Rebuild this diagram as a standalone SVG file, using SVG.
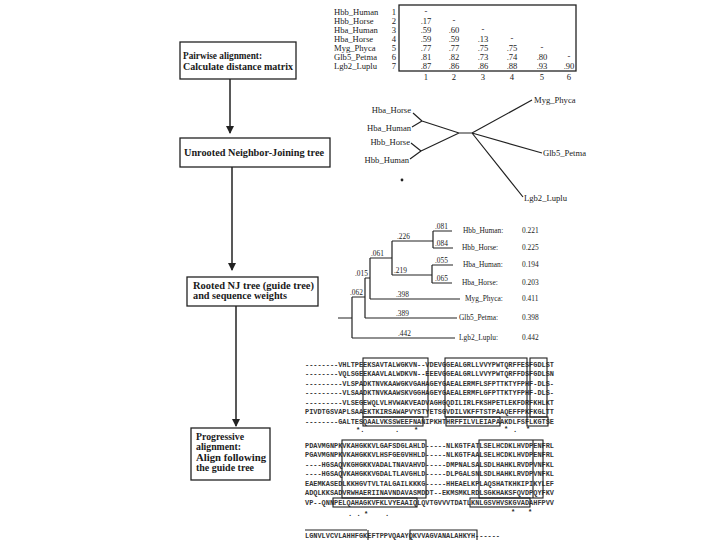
<svg xmlns="http://www.w3.org/2000/svg" width="720" height="540" viewBox="0 0 720 540">
<defs>
<style>
.lbl{font-family:"Liberation Serif",serif;font-weight:bold;font-size:9.5px;fill:#1a1a1a}
.box{fill:#fff;stroke:#222;stroke-width:1.3}
.flow{stroke:#222;stroke-width:1.5;fill:none;marker-end:url(#ah)}
.tr{stroke:#222;stroke-width:1.2;fill:none}
.nm{font-family:"Liberation Serif",serif;font-size:8.6px;fill:#222}
.sm{font-family:"Liberation Serif",serif;font-size:7.4px;fill:#222}
.seq{font-family:"Liberation Mono",monospace;font-weight:bold;font-size:6.9px;fill:#333}
.hl{fill:none;stroke:#222;stroke-width:1.1}
.cons{font-family:"Liberation Mono",monospace;font-weight:bold;font-size:7px;fill:#222}
</style>
<marker id="ah" markerWidth="8" markerHeight="8" refX="7" refY="4" orient="auto" markerUnits="userSpaceOnUse"><path d="M0,0 L8,4 L0,8 z" fill="#222"/></marker>
</defs>
<rect width="720" height="540" fill="#fff"/>

<g id="connectors">
<line class="flow" x1="230" y1="79" x2="230" y2="133"/>
<line class="flow" x1="232" y1="167" x2="232" y2="270"/>
<line class="flow" x1="236" y1="306" x2="236" y2="426"/>
</g>

<g id="step1">
<rect class="box" x="180" y="42" width="116" height="37"/>
<text class="lbl" x="183" y="59" textLength="79" lengthAdjust="spacingAndGlyphs">Pairwise alignment:</text>
<text class="lbl" x="183" y="70" textLength="110" lengthAdjust="spacingAndGlyphs">Calculate distance matrix</text>
</g>
<g id="step2">
<rect class="box" x="180" y="138" width="150" height="29"/>
<text class="lbl" x="184" y="156" textLength="140" lengthAdjust="spacingAndGlyphs">Unrooted Neighbor-Joining tree</text>
</g>
<g id="step3">
<rect class="box" x="187" y="277" width="131" height="29"/>
<text class="lbl" x="193" y="289" textLength="121" lengthAdjust="spacingAndGlyphs">Rooted NJ tree (guide tree)</text>
<text class="lbl" x="193" y="299" textLength="94" lengthAdjust="spacingAndGlyphs">and sequence weights</text>
</g>
<g id="step4">
<rect class="box" x="191" y="428" width="79" height="52"/>
<text class="lbl" x="196" y="440" textLength="48" lengthAdjust="spacingAndGlyphs">Progressive</text>
<text class="lbl" x="196" y="450" textLength="45" lengthAdjust="spacingAndGlyphs">alignment:</text>
<text class="lbl" x="196" y="461" textLength="70" lengthAdjust="spacingAndGlyphs">Align following</text>
<text class="lbl" x="196" y="471" textLength="58" lengthAdjust="spacingAndGlyphs">the guide tree</text>
</g>

<g id="distance-matrix">
<rect x="399" y="5" width="177" height="66" fill="none" stroke="#222" stroke-width="1.3"/>
<g class="nm">
<text x="334" y="15">Hbb_Human</text>
<text x="334" y="24">Hbb_Horse</text>
<text x="334" y="33">Hba_Human</text>
<text x="334" y="42">Hba_Horse</text>
<text x="334" y="51">Myg_Phyca</text>
<text x="334" y="60">Glb5_Petma</text>
<text x="334" y="69">Lgb2_Luplu</text>
</g>
<g class="nm" text-anchor="middle">
<text x="394" y="15">1</text><text x="394" y="24">2</text><text x="394" y="33">3</text><text x="394" y="42">4</text><text x="394" y="51">5</text><text x="394" y="60">6</text><text x="394" y="69">7</text>
<text x="426" y="14">-</text>
<text x="426" y="24">.17</text><text x="454" y="23">-</text>
<text x="426" y="33">.59</text><text x="454" y="33">.60</text><text x="483" y="32">-</text>
<text x="426" y="42">.59</text><text x="454" y="42">.59</text><text x="483" y="42">.13</text><text x="512" y="41">-</text>
<text x="426" y="51">.77</text><text x="454" y="51">.77</text><text x="483" y="51">.75</text><text x="512" y="51">.75</text><text x="542" y="50">-</text>
<text x="426" y="60">.81</text><text x="454" y="60">.82</text><text x="483" y="60">.73</text><text x="512" y="60">.74</text><text x="542" y="60">.80</text><text x="569" y="59">-</text>
<text x="426" y="69">.87</text><text x="454" y="69">.86</text><text x="483" y="69">.86</text><text x="512" y="69">.88</text><text x="542" y="69">.93</text><text x="569" y="69">.90</text>
<text x="426" y="80">1</text><text x="454" y="80">2</text><text x="483" y="80">3</text><text x="512" y="80">4</text><text x="542" y="80">5</text><text x="569" y="80">6</text>
</g>
</g>

<g id="unrooted-tree">
<path class="tr" d="M459,133 L472,133 M459,133 L422,121 M459,133 L421,151 M422,121 L413,113 M422,121 L412,127 M421,151 L411,143 M421,151 L410,159 M472,133 L532,100 M472,133 L542,153 M472,133 L523,197"/>
<g class="nm">
<text x="411" y="113" text-anchor="end">Hba_Horse</text>
<text x="411" y="131" text-anchor="end">Hba_Human</text>
<text x="410" y="145" text-anchor="end">Hbb_Horse</text>
<text x="409" y="163" text-anchor="end">Hbb_Human</text>
<text x="534" y="103">Myg_Phyca</text>
<text x="543" y="156">Glb5_Petma</text>
<text x="524" y="201">Lgb2_Luplu</text>
</g>
<circle cx="402" cy="180" r="1.4" fill="#222"/>
</g>

<g id="rooted-tree">
<path class="tr" d="M338,318 L352,318 M352,297 L352,338 M352,297 L365,297 M365,278 L365,318 M365,278 L370,278 M370,258 L370,299 M370,258 L392,258 M392,241 L392,275 M392,241 L433,241 M433,231 L433,248 M433,231 L452,231 M433,248 L453,248 M392,275 L432,275 M432,265 L432,283 M432,265 L453,265 M432,283 L452,283 M370,299 L460,299 M365,318 L457,318 M352,338 L455,338"/>
<g class="sm">
<text x="350" y="295">.062</text>
<text x="355" y="276">.015</text>
<text x="371" y="256">.061</text>
<text x="397" y="239">.226</text>
<text x="435" y="229">.081</text>
<text x="435" y="246">.084</text>
<text x="394" y="273">.219</text>
<text x="435" y="263">.055</text>
<text x="435" y="281">.065</text>
<text x="396" y="297">.398</text>
<text x="396" y="316">.389</text>
<text x="398" y="336">.442</text>
<text x="463" y="233">Hbb_Human:</text>
<text x="462" y="250">Hbb_Horse:</text>
<text x="463" y="267">Hba_Human:</text>
<text x="462" y="285">Hba_Horse:</text>
<text x="465" y="301">Myg_Phyca:</text>
<text x="459" y="320">Glb5_Petma:</text>
<text x="459" y="340">Lgb2_Luplu:</text>
<text x="522" y="233">0.221</text>
<text x="522" y="250">0.225</text>
<text x="522" y="267">0.194</text>
<text x="522" y="285">0.203</text>
<text x="522" y="301">0.411</text>
<text x="522" y="320">0.398</text>
<text x="522" y="340">0.442</text>
</g>
</g>

<g id="alignment">
<g class="seq">
<text x="305" y="366.5" textLength="249" lengthAdjust="spacingAndGlyphs">--------VHLTPEEKSAVTALWGKVN--VDEVGGEALGRLLVVYPWTQRFFESFGDLST</text>
<text x="305" y="376" textLength="249" lengthAdjust="spacingAndGlyphs">--------VQLSGEEKAAVLALWDKVN--EEEVGGEALGRLLVVYPWTQRFFDSFGDLSN</text>
<text x="305" y="385.5" textLength="249" lengthAdjust="spacingAndGlyphs">---------VLSPADKTNVKAAWGKVGAHAGEYGAEALERMFLSFPTTKTYFPHF-DLS-</text>
<text x="305" y="395" textLength="249" lengthAdjust="spacingAndGlyphs">---------VLSAADKTNVKAAWSKVGGHAGEYGAEALERMFLGFPTTKTYFPHF-DLS-</text>
<text x="305" y="404.5" textLength="249" lengthAdjust="spacingAndGlyphs">---------VLSEGEWQLVLHVWAKVEADVAGHGQDILIRLFKSHPETLEKFDRFKHLKT</text>
<text x="305" y="414" textLength="249" lengthAdjust="spacingAndGlyphs">PIVDTGSVAPLSAAEKTKIRSAWAPVYSTYETSGVDILVKFFTSTPAAQEFFPKFKGLTT</text>
<text x="305" y="423.5" textLength="249" lengthAdjust="spacingAndGlyphs">--------GALTESQAALVKSSWEEFNANIPKHTHRFFILVLEIAPAAKDLFSFLKGTSE</text>

<text x="305" y="447.5" textLength="249" lengthAdjust="spacingAndGlyphs">PDAVMGNPKVKAHGKKVLGAFSDGLAHLD-----NLKGTFATLSELHCDKLHVDPENFRL</text>
<text x="305" y="457" textLength="249" lengthAdjust="spacingAndGlyphs">PGAVMGNPKVKAHGKKVLHSFGEGVHHLD-----NLKGTFAALSELHCDKLHVDPENFRL</text>
<text x="305" y="466.5" textLength="249" lengthAdjust="spacingAndGlyphs">----HGSAQVKGHGKKVADALTNAVAHVD-----DMPNALSALSDLHAHKLRVDPVNFKL</text>
<text x="305" y="476" textLength="249" lengthAdjust="spacingAndGlyphs">----HGSAQVKAHGKKVGDALTLAVGHLD-----DLPGALSNLSDLHAHKLRVDPVNFKL</text>
<text x="305" y="485.5" textLength="249" lengthAdjust="spacingAndGlyphs">EAEMKASEDLKKHGVTVLTALGAILKKKG-----HHEAELKPLAQSHATKHKIPIKYLEF</text>
<text x="305" y="495" textLength="249" lengthAdjust="spacingAndGlyphs">ADQLKKSADVRWHAERIINAVNDAVASMDDT--EKMSMKLRDLSGKHAKSFQVDPQYFKV</text>
<text x="305" y="504.5" textLength="249" lengthAdjust="spacingAndGlyphs">VP--QNNPELQAHAGKVFKLVYEAAIQLQVTGVVVTDATLKNLGSVHVSKGVADAHFPVV</text>

<text x="305" y="537.5" textLength="195" lengthAdjust="spacingAndGlyphs">LGNVLVCVLAHHFGKEFTPPVQAAYQKVVAGVANALAHKYH------</text>
</g>
<g class="cons">
<text x="356" y="432">*.</text><text x="395" y="432">.</text><text x="414" y="432">*</text>
<text x="504" y="431">*</text><text x="513" y="432">.</text><text x="526" y="431">*</text>
<text x="348" y="516">. .</text><text x="364" y="516">*</text><text x="385" y="516">.</text>
<text x="511" y="514">*</text><text x="528" y="514">*</text>
</g>
<g class="hl">
<rect x="363" y="358" width="65" height="59"/>
<rect x="363" y="417" width="60" height="9"/>
<rect x="445" y="358" width="82" height="59"/>
<rect x="446" y="417" width="54" height="9"/>
<rect x="530" y="358" width="17" height="59"/>
<rect x="527" y="417" width="21" height="9"/>
<rect x="342" y="440" width="84" height="58"/>
<rect x="333" y="498" width="84" height="9"/>
<rect x="479" y="440" width="64" height="58"/>
<line x1="533" y1="440" x2="533" y2="498"/>
<rect x="470" y="498" width="60" height="9"/>
<line x1="305" y1="530" x2="367" y2="530"/>
<path d="M368,530 L368,541"/>
<path d="M410,541 L410,530 L477,530 L477,541"/>
</g>
</g>
</svg>
